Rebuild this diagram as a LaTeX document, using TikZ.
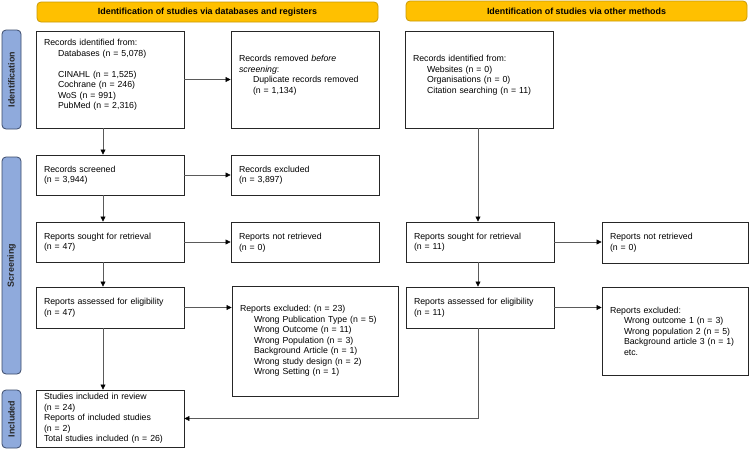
\documentclass[tikz,border=0pt]{standalone}
\usepackage{fontspec}
\setmainfont{Liberation Sans}
\usetikzlibrary{arrows.meta}
\definecolor{hdr}{HTML}{FFC000}
\definecolor{hdrline}{HTML}{C99A06}
\definecolor{side}{HTML}{8FAADC}
\definecolor{sideline}{HTML}{3A4A6A}
\definecolor{conn}{HTML}{5A5A5A}
\begin{document}
\frenchspacing
\hyphenpenalty=10000
\exhyphenpenalty=10000
\begin{tikzpicture}[x=1pt,y=-1pt,
  font=\fontsize{8.75}{10.5}\selectfont,
  hdrbox/.style={draw=hdrline, fill=hdr, rounded corners=4pt, line width=0.8pt,
    minimum width=341pt, minimum height=20pt, inner sep=0pt,
    font=\bfseries\fontsize{8.9}{10}\selectfont},
  sidebox/.style={draw=sideline, fill=side, rounded corners=4pt, line width=0.8pt,
    rotate=90, minimum height=19pt, inner sep=0pt,
    font=\bfseries\fontsize{8.9}{10}\selectfont, text=black!85},
  box/.style={draw=black!85, line width=0.9pt, align=left, inner xsep=8pt, inner ysep=2pt},
  arr/.style={draw=conn, line width=0.6pt, -{Triangle[length=5pt,width=5pt,color=black]}}
]
\useasboundingbox (0,0) rectangle (750,450);
\newcommand{\ind}{\hspace*{14pt}}

% headers
\node[hdrbox] (h1) at (207.5,12) {Identification of studies via databases and registers};
\node[hdrbox] (h2) at (576.5,11) {Identification of studies via other methods};

% side bars
\node[sidebox, minimum width=99pt] (sIdent) at (11.5,79.5) {Identification};
\node[sidebox, minimum width=217pt] (sScreen) at (11.5,265.5) {Screening};
\node[sidebox, minimum width=58pt] (sIncl) at (11.5,419) {Included};

% left column
\node[box, minimum width=148pt, text width=132pt, minimum height=97pt] (id) at (110,79.5)
  {Records identified from:\\
   \ind Databases (n = 5,078)\\[10.5pt]
   \ind CINAHL (n = 1,525)\\
   \ind Cochrane (n = 246)\\
   \ind WoS (n = 991)\\
   \ind PubMed (n = 2,316)\\ \mbox{}};
\node[box, minimum width=148pt, text width=132pt, minimum height=97pt] (rem) at (305,79.5)
  {Records removed \textit{before}\\
   \textit{screening}:\\
   \ind Duplicate records removed\\
   \ind (n = 1,134)\\ \mbox{}};
\node[box, minimum width=148pt, text width=132pt, minimum height=40pt] (scr) at (110,175)
  {Records screened\\(n = 3,944)};
\node[box, minimum width=148pt, text width=132pt, minimum height=40pt] (exc) at (305,175)
  {Records excluded\\(n = 3,897)};
\node[box, minimum width=148pt, text width=132pt, minimum height=40pt] (soL) at (110,242)
  {Reports sought for retrieval\\(n = 47)};
\node[box, minimum width=148pt, text width=132pt, minimum height=40pt] (nrL) at (305,242.5)
  {Reports not retrieved\\(n = 0)};
\node[box, minimum width=148pt, text width=132pt, minimum height=41pt] (asL) at (110,307.5)
  {Reports assessed for eligibility\\(n = 47)};
\node[box, minimum width=166pt, text width=150pt, minimum height=110pt] (exL) at (315,341)
  {Reports excluded: (n = 23)\\
   \ind Wrong Publication Type (n = 5)\\
   \ind Wrong Outcome (n = 11)\\
   \ind Wrong Population (n = 3)\\
   \ind Background Article (n = 1)\\
   \ind Wrong study design (n = 2)\\
   \ind Wrong Setting (n = 1)};
\node[box, minimum width=148pt, text width=132pt, minimum height=57pt] (inc) at (110,418.5)
  {Studies included in review\\
   (n = 24)\\
   Reports of included studies\\
   (n = 2)\\
   Total studies included (n = 26)};

% right column
\node[box, minimum width=148pt, text width=132pt, minimum height=97pt] (idR) at (479,79.5)
  {Records identified from:\\
   \ind Websites (n = 0)\\
   \ind Organisations (n = 0)\\
   \ind Citation searching (n = 11)\\ \mbox{}};
\node[box, minimum width=148pt, text width=132pt, minimum height=40pt] (soR) at (480,242)
  {Reports sought for retrieval\\(n = 11)};
\node[box, minimum width=146pt, text width=130pt, minimum height=41pt] (nrR) at (675,242.5)
  {Reports not retrieved\\(n = 0)};
\node[box, minimum width=148pt, text width=132pt, minimum height=41pt] (asR) at (480,307.5)
  {Reports assessed for eligibility\\(n = 11)};
\node[box, minimum width=146pt, text width=130pt, minimum height=88pt] (exR) at (675,331)
  {Reports excluded:\\
   \ind Wrong outcome 1 (n = 3)\\
   \ind Wrong population 2 (n = 5)\\
   \ind Background article 3 (n = 1)\\
   \ind etc.};

% column guides
\coordinate (colL) at (103,0);
\coordinate (colR) at (478,0);

% connectors
\draw[arr] (id.south -| colL) -- (scr.north -| colL);
\draw[arr] (id.east) -- (rem.west |- id.east);
\draw[arr] (scr.east) -- (exc.west |- scr.east);
\draw[arr] (scr.south -| colL) -- (soL.north -| colL);
\draw[arr] (soL.east) -- (nrL.west |- soL.east);
\draw[arr] (soL.south -| colL) -- (asL.north -| colL);
\draw[arr] (asL.east) -- (exL.west |- asL.east);
\draw[arr] (asL.south -| colL) -- (inc.north -| colL);

\draw[arr] (idR.south -| colR) -- (soR.north -| colR);
\draw[arr] (soR.east) -- (nrR.west |- soR.east);
\draw[arr] (soR.south -| colR) -- (asR.north -| colR);
\draw[arr] (asR.east) -- (exR.west |- asR.east);
\draw[arr] (asR.south -| colR) |- (inc.east);
\end{tikzpicture}
\end{document}
